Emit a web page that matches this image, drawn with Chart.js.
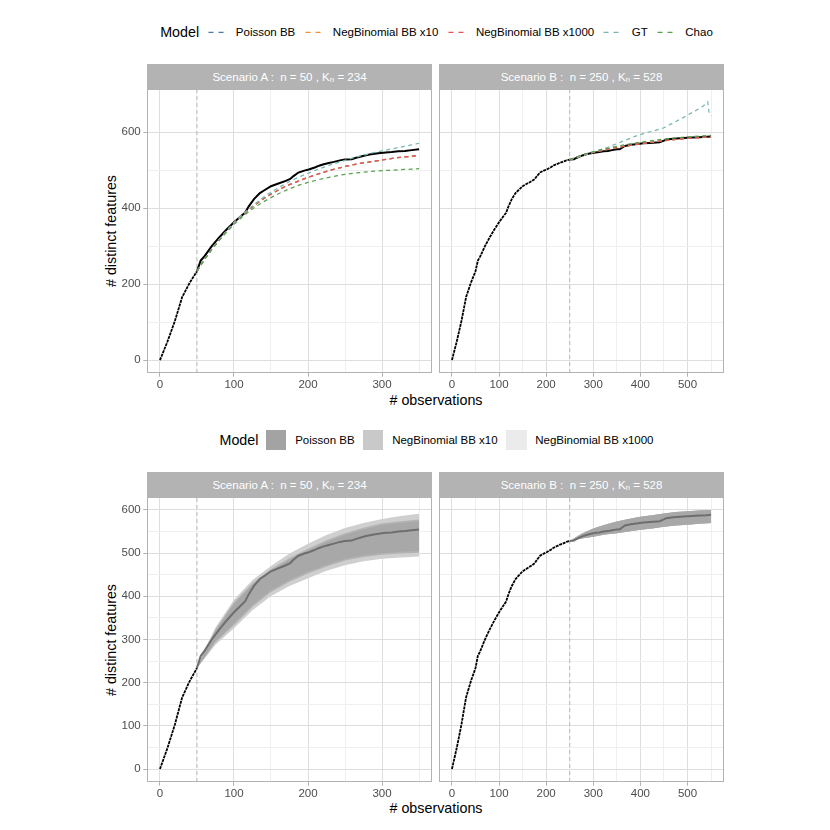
<!DOCTYPE html>
<html><head><meta charset="utf-8">
<script src="https://cdn.jsdelivr.net/npm/chart.js@4.4.1/dist/chart.umd.min.js"></script>
<style>
body{margin:0;width:830px;height:830px;background:#fff;position:relative;overflow:hidden;font-family:"Liberation Sans",Arial,sans-serif;}
canvas{position:absolute;}
.strip{position:absolute;background:#b3b3b3;color:#fff;font-size:11.5px;display:flex;align-items:center;justify-content:center;white-space:pre;}
.strip sub{font-size:8px;position:relative;top:3px;vertical-align:baseline;line-height:0;}
.legend{position:absolute;left:0;width:873px;height:22px;display:flex;justify-content:center;align-items:center;color:#000;}
.legend .title{font-size:14.3px;margin-right:7.4px;}
.legend .key{width:20.6px;height:20.6px;flex:none;}
.legend .lab{font-size:11.5px;margin-left:8.7px;margin-right:8.3px;white-space:nowrap;}
.legend .lab:last-child{margin-right:0;}
.ytitle{position:absolute;font-size:14.3px;white-space:nowrap;transform:translate(-50%,-50%) rotate(-90deg);}
.xtitle{position:absolute;font-size:14.3px;white-space:nowrap;transform:translate(-50%,-50%);}
</style>
</head><body>

<div class="legend" id="leg1" style="top:21px"></div>
<div class="legend" id="leg2" style="top:429px"></div>

<div class="strip" style="left:147px;top:64px;width:285px;height:25px">Scenario A :  n = 50 , K<sub>n</sub> = 234</div>
<div class="strip" style="left:439px;top:64px;width:285px;height:25px">Scenario B :  n = 250 , K<sub>n</sub> = 528</div>
<div class="strip" style="left:147px;top:472px;width:285px;height:25px">Scenario A :  n = 50 , K<sub>n</sub> = 234</div>
<div class="strip" style="left:439px;top:472px;width:285px;height:25px">Scenario B :  n = 250 , K<sub>n</sub> = 528</div>

<div class="ytitle" style="left:111px;top:231px"># distinct features</div>
<div class="ytitle" style="left:111px;top:639.5px"># distinct features</div>
<div class="xtitle" style="left:436px;top:399.5px"># observations</div>
<div class="xtitle" style="left:436px;top:808px"># observations</div>

<canvas id="cA1" width="342" height="308" style="left:90px;top:89px;width:342px;height:308px"></canvas>
<canvas id="cB1" width="285" height="308" style="left:439px;top:89px;width:285px;height:308px"></canvas>
<canvas id="cA2" width="342" height="309" style="left:90px;top:497px;width:342px;height:309px"></canvas>
<canvas id="cB2" width="285" height="309" style="left:439px;top:497px;width:285px;height:309px"></canvas>

<script>
// ---------------- DATA ----------------
const modelNames = ['Poisson BB','NegBinomial BB x10','NegBinomial BB x1000','GT','Chao'];
const bandNames = ['Poisson BB','NegBinomial BB x10','NegBinomial BB x1000'];
const nA = 50, nB = 250;

// observed accumulation curve (shared sample)
const obsX = [0,10,20,30,40,50,55,60,70,80,90,100,110,115,120,127,135,140,150,160,170,176,180,187,195,201,210,215,220,228,235,243,250,259,265,277,285,295,305,313,322,331,340,350,356,362,367,380,395,406,420,441,450,455,470,491,510,526,540,550];
const obsY = [0,48,102,166,203,234,262,273,300,323,344,363,380,388,405,424,440,446,458,465,472,477,484,494,499,502,508,512,515,519,522,526,528,529,533,539,542,545,547,548,550,551,553,555,555,560,564,567,569,571,572,574,578,581,583,585,586,587,588,589];

// Scenario A model extrapolations
const modAX = [50,60,70,80,90,100,110,120,130,140,150,160,170,180,190,200,210,220,230,240,250,260,270,280,290,300,310,320,330,340,350];
const poissonA    = [234,265,292,317,340,361,380,396,411,425,437,448,458,466,474,481,488,494,500,505,510,514,518,521,524,527,530,533,535,537,539];
const negbin10A   = [234,265,292,317,340,361,380,396,411,425,437,448,458,466,474,481,488,494,500,505,510,514,518,521,524,527,530,533,535,537,539];
const negbin1000A = [234,265,292,317,340,361,380,396,411,425,437,448,458,466,474,481,488,494,500,505,510,514,518,521,524,527,530,533,535,537,539];
const gtA   = [234,265,292,317,340,362,381,398,414,429,442,454,465,475,484,492,500,507,514,520,526,532,537,542,547,551,555,559,563,567,571];
const chaoA = [234,264,291,315,337,357,375,391,405,417,428,438,447,455,462,468,473,478,482,486,489,492,494,496,498,499,500,501,502,503,504];

// Scenario B model extrapolations
const modBX = [250,275,300,325,350,375,400,425,450,475,500,525,550];
const poissonB    = [528,538,547,554,560,565,570,574,578,581,584,586,588];
const negbin10B   = [528,538,547,554,560,565,570,574,578,581,584,586,588];
const negbin1000B = [528,538,547,554,560,565,570,574,578,581,584,586,588];
const chaoB = [528,540,549,557,563,569,574,578,582,585,588,590,592];
const gtBX = [250,270,290,310,330,350,370,390,410,430,450,470,490,510,530,540,543,546,550];
const gtB  = [528,536,544,552,560,570,580,590,598,604,612,625,638,652,666,676,680,650,643];

// Scenario A credible bands
const bandAX = [50,60,75,100,125,150,175,200,225,250,275,300,325,350];
const poissonLoA    = [234,259,296,337,380,414,438,457,473,487,495,500,503,505];
const poissonHiA    = [234,271,320,382,427,459,485,506,526,542,555,565,570,574];
const negbin10LoA   = [234,258,293,333,376,410,434,453,469,483,491,496,499,501];
const negbin10HiA   = [234,273,323,386,431,463,489,510,530,546,559,569,574,578];
const negbin1000LoA = [234,255,288,326,368,401,424,442,459,472,481,487,490,492];
const negbin1000HiA = [234,276,328,392,438,470,499,522,542,558,570,579,586,591];

// Scenario B credible bands
const poissonLoB    = [528,534,538,543,546,550,554,557,561,564,566,568,570];
const poissonHiB    = [528,545,557,566,573,579,584,588,592,595,597,599,600];
const negbin10LoB   = [528,534,538,543,546,550,554,557,561,564,566,568,570];
const negbin10HiB   = [528,545,557,566,573,579,584,588,592,595,597,599,600];
const negbin1000LoB = [528,534,538,543,546,550,554,557,561,564,566,568,570];
const negbin1000HiB = [528,545,557,566,573,579,584,588,592,595,597,599,600];

// tick labels
const xMajA = [0,100,200,300], xMinA = [50,150,250,350];
const xMajB = [0,100,200,300,400,500], xMinB = [50,150,250,350,450,550];
const yMajTop = [0,200,400,600], yMinTop = [100,300,500];
const yMajBot = [0,100,200,300,400,500,600], yMinBot = [50,150,250,350,450,550];

// ---------------- STYLE ----------------
const lineColors = ['#4E79A7','#F28E2B','#E15759','#76B7B2','#59A14F'];
const bandColors = ['#a8a8a8','#b3b3b3','#cfcfcf'];
const legendBandColors = ['#a3a3a3','#c9c9c9','#ebebeb'];
const MAJ='#dedede', MIN='#efefef', TICK='#b3b3b3';
Chart.defaults.font.family='"Liberation Sans", Arial, sans-serif';
Chart.defaults.font.size=11.5;

// legends
(function(){
  const l1=document.getElementById('leg1');
  let h='<span class="title">Model</span>';
  modelNames.forEach((m,i)=>{
    h+=`<svg class="key" viewBox="0 0 20.6 20.6"><line x1="1.5" y1="10.3" x2="19" y2="10.3" stroke="${lineColors[i]}" stroke-width="1.2" stroke-dasharray="5 5"/></svg><span class="lab">${m}</span>`;
  });
  l1.innerHTML=h;
  const l2=document.getElementById('leg2');
  h='<span class="title">Model</span>';
  bandNames.forEach((m,i)=>{
    h+=`<span class="key" style="background:${legendBandColors[i]}"></span><span class="lab">${m}</span>`;
  });
  l2.innerHTML=h;
})();

const pts=(xs,ys)=>xs.map((x,i)=>({x,y:ys[i]}));
const obsPts=(lo,hi)=>obsX.map((x,i)=>({x,y:obsY[i]})).filter(p=>p.x>=lo&&p.x<=hi);
const noPad=s=>{s.paddingTop=0;s.paddingBottom=0;s.paddingLeft=0;s.paddingRight=0;};

function xAxis(min,max,maj,mnr){
  const all=[...maj,...mnr].sort((a,b)=>a-b);
  return {type:'linear',min,max,
    afterBuildTicks:s=>{s.ticks=all.map(v=>({value:v}));},
    afterFit:s=>{s.height=24;noPad(s);},
    border:{display:false},
    grid:{color:c=>maj.includes(c.tick.value)?MAJ:MIN,lineWidth:1,tickLength:3.7,
      tickColor:c=>maj.includes(c.tick.value)?TICK:'rgba(0,0,0,0)'},
    ticks:{autoSkip:false,maxRotation:0,minRotation:0,padding:1,color:'#4d4d4d',font:{size:11.5},
      callback:v=>maj.includes(v)?String(v):''}
  };
}
function yAxis(min,max,maj,mnr,show){
  const all=[...maj,...mnr].sort((a,b)=>a-b);
  return {type:'linear',min,max,
    afterBuildTicks:s=>{s.ticks=all.map(v=>({value:v}));},
    afterFit:s=>{s.width=show?57:0;noPad(s);},
    border:{display:false},
    grid:{color:c=>maj.includes(c.tick.value)?MAJ:MIN,lineWidth:1,tickLength:3.7,drawTicks:show,
      tickColor:c=>maj.includes(c.tick.value)?TICK:'rgba(0,0,0,0)'},
    ticks:{display:show,autoSkip:false,padding:2.6,color:'#4d4d4d',font:{size:11.5},
      callback:v=>maj.includes(v)?String(v):''}
  };
}
const borderPlugin={id:'pborder',afterDraw(c){const a=c.chartArea,ctx=c.ctx;ctx.save();ctx.strokeStyle='#b3b3b3';ctx.lineWidth=1;
  ctx.strokeRect(Math.round(a.left)+0.5,Math.round(a.top)+0.5,Math.round(a.right-a.left)-1,Math.round(a.bottom-a.top)-1);ctx.restore();}};

function line(data,color,width,dash,order){
  return {data,borderColor:color,borderWidth:width,borderDash:dash||[],pointRadius:0,fill:false,tension:0,order};
}
function vline(n,ymin,ymax){
  return line([{x:n,y:ymin},{x:n,y:ymax}],'#b8b8b8',1,[4,3],50);
}
function make(id,datasets,xs,ys){
  new Chart(document.getElementById(id),{type:'line',data:{datasets},
    options:{responsive:false,animation:false,parsing:true,layout:{padding:0},
      plugins:{legend:{display:false},tooltip:{enabled:false}},
      scales:{x:xs,y:ys}},plugins:[borderPlugin]});
}

const DASH=[4,3.5], LW=1.25, PRE=[3,0.8];
const TOPY=[-34,714], BOTY=[-30,630];

// Top A
make('cA1',[
  vline(nA,TOPY[0],TOPY[1]),
  line(obsPts(0,nA),'#000',1.8,PRE,20),
  line(obsPts(nA,350),'#000',2,[],19),
  line(pts(modAX,poissonA),lineColors[0],LW,DASH,5),
  line(pts(modAX,negbin10A),lineColors[1],LW,DASH,4),
  line(pts(modAX,negbin1000A),lineColors[2],LW,DASH,3),
  line(pts(modAX,gtA),lineColors[3],LW,DASH,2),
  line(pts(modAX,chaoA),lineColors[4],LW,DASH,1)
],xAxis(-17.5,367.5,xMajA,xMinA),yAxis(TOPY[0],TOPY[1],yMajTop,yMinTop,true));

// Top B
make('cB1',[
  vline(nB,TOPY[0],TOPY[1]),
  line(obsPts(0,nB),'#000',1.8,PRE,20),
  line(obsPts(nB,550),'#000',2,[],19),
  line(pts(modBX,poissonB),lineColors[0],LW,DASH,5),
  line(pts(modBX,negbin10B),lineColors[1],LW,DASH,4),
  line(pts(modBX,negbin1000B),lineColors[2],LW,DASH,3),
  line(pts(gtBX,gtB),lineColors[3],LW,DASH,2),
  line(pts(modBX,chaoB),lineColors[4],LW,DASH,1)
],xAxis(-27.5,577.5,xMajB,xMinB),yAxis(TOPY[0],TOPY[1],yMajTop,yMinTop,false));

function bands(bx,lo1,hi1,lo2,hi2,lo3,hi3){
  // indices: 0 vline, 1 obs pre; bands start at 2
  const b=(lo,hi,col,ord,idx)=>[
    {data:pts(bx,lo),borderWidth:0,pointRadius:0,fill:false,order:ord,borderColor:'rgba(0,0,0,0)'},
    {data:pts(bx,hi),borderWidth:0,pointRadius:0,fill:{target:idx},backgroundColor:col,order:ord,borderColor:'rgba(0,0,0,0)'}
  ];
  return [...b(lo3,hi3,bandColors[2],40,2),...b(lo2,hi2,bandColors[1],35,4),...b(lo1,hi1,bandColors[0],30,6)];
}

// Bottom A
make('cA2',[
  vline(nA,BOTY[0],BOTY[1]),
  line(obsPts(0,nA),'#000',1.8,PRE,20),
  ...bands(bandAX,poissonLoA,poissonHiA,negbin10LoA,negbin10HiA,negbin1000LoA,negbin1000HiA),
  line(obsPts(nA,350),'#6e6e6e',2,[],10)
],xAxis(-17.5,367.5,xMajA,xMinA),yAxis(BOTY[0],BOTY[1],yMajBot,yMinBot,true));

// Bottom B
make('cB2',[
  vline(nB,BOTY[0],BOTY[1]),
  line(obsPts(0,nB),'#000',1.8,PRE,20),
  ...bands(modBX,poissonLoB,poissonHiB,negbin10LoB,negbin10HiB,negbin1000LoB,negbin1000HiB),
  line(obsPts(nB,550),'#6e6e6e',2,[],10)
],xAxis(-27.5,577.5,xMajB,xMinB),yAxis(BOTY[0],BOTY[1],yMajBot,yMinBot,false));
</script>
</body></html>
